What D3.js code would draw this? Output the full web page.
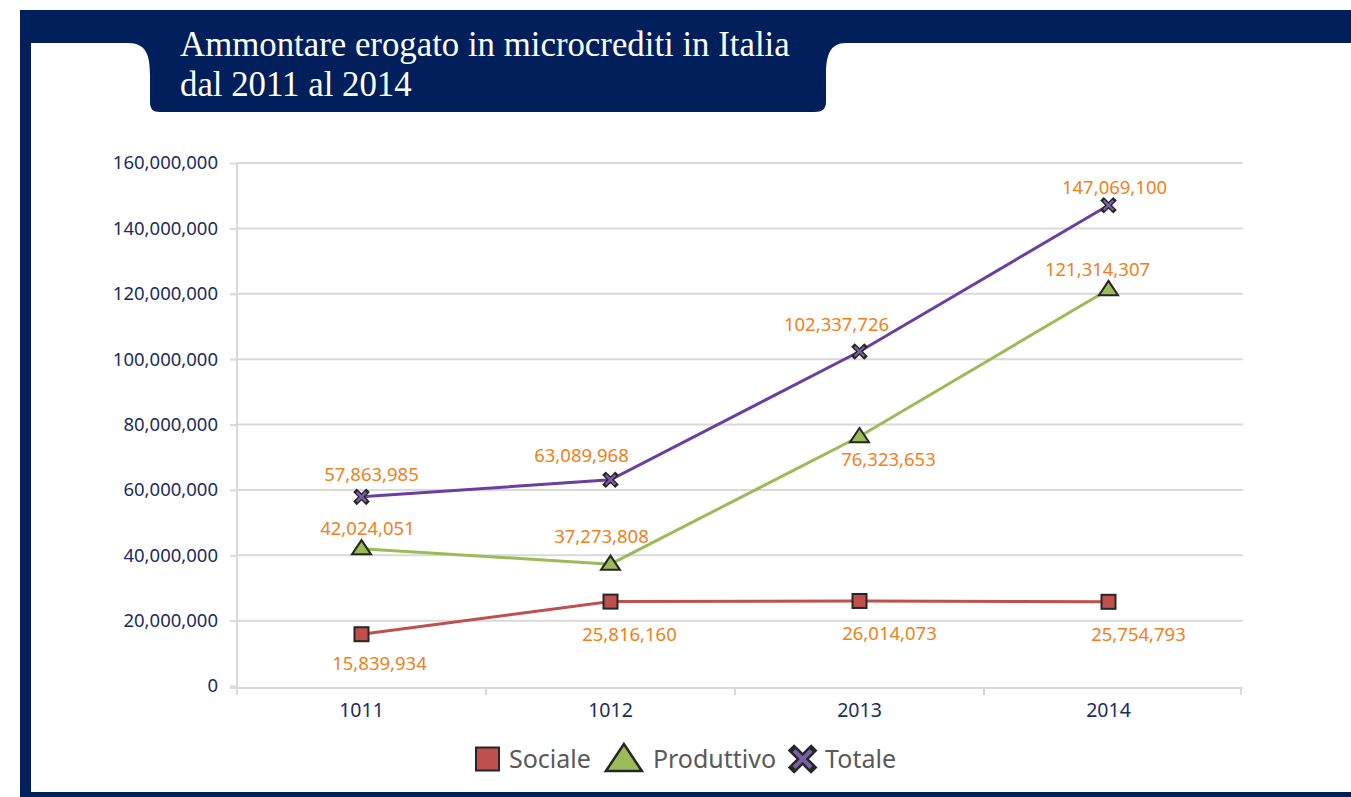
<html>
<head>
    <meta charset="utf-8">
    <script src="https://d3js.org/d3.v7.min.js"></script>
    <style>
        body { margin: 0; background: #fff; }
        svg { display: block; }
        .tick text { font-family: "Noto Sans", sans-serif; font-size: 18.5px; fill: #1c2b5e; }
        .xax .tick text { font-size: 19.5px; }
        .lbl { font-family: "Noto Sans", sans-serif; font-size: 18.5px; fill: #f0801a; }
        .leg { font-family: "Noto Sans", sans-serif; font-size: 25px; fill: #595959; }
    </style>
</head>
<body>
<script>
    // chart data
    var titleLines = ["Ammontare erogato in microcrediti in Italia", "dal 2011 al 2014"];
    var years = ["1011", "1012", "2013", "2014"];
    var sociale = [15839934, 25816160, 26014073, 25754793];
    var produttivo = [42024051, 37273808, 76323653, 121314307];
    var totale = [57863985, 63089968, 102337726, 147069100];
    var yTicks = [0, 20000000, 40000000, 60000000, 80000000, 100000000, 120000000, 140000000, 160000000];
    var seriesNames = ["Sociale", "Produttivo", "Totale"];

    // where each value label sits relative to its marker (dx, dy)
    var labelOffsets = {
        Sociale: [[18, 28], [19, 32], [30, 32], [30, 32]],
        Produttivo: [[6, -21], [-9, -29], [29, 22], [-11, -21]],
        Totale: [[10, -23], [-29, -25], [-23, -28], [6, -19]]
    };

    var series = [
        { name: "Sociale", values: sociale, color: "#c0504d", fill: "#c0504d", shape: "square" },
        { name: "Produttivo", values: produttivo, color: "#9bbb59", fill: "#9bbb59", shape: "triangle" },
        { name: "Totale", values: totale, color: "#6b3fa0", fill: "#7a5fa6", shape: "x" }
    ];

    var width = 1351, height = 797;
    var navy = "#001f5b", grid = "#d9d9d9", dark = "#262626";

    var svg = d3.select("body").append("svg")
        .attr("width", width)
        .attr("height", height);

    // frame: navy band with a title tab cut into the white panel
    svg.append("rect")
        .attr("x", 20).attr("y", 10)
        .attr("width", width - 20).attr("height", height - 10)
        .attr("fill", navy);

    svg.append("path")
        .attr("fill", "#fff")
        .attr("d", "M31,792 L31,43 L128,43 C146,43 150,55 150,75 L150,102 C150,109 153,112 160,112"
            + " L815,112 C822,112 826,109 826,102 L826,75 C826,55 830,43 846,43 L1351,43 L1351,792 Z");

    var title = svg.append("g").attr("fill", "#fff")
        .style("font-family", "'Liberation Serif', 'DejaVu Serif', serif");
    var t1 = title.append("text").attr("x", 180).attr("y", 56).attr("font-size", 30).text(titleLines[0]);
    var fs = 30 * 610 / t1.node().getComputedTextLength();
    t1.attr("font-size", fs);
    title.append("text").attr("x", 180).attr("y", 96).attr("font-size", fs).text(titleLines[1]);

    // scales
    var x = d3.scaleBand().domain(years).range([237, 1233]);
    var y = d3.scaleLinear().domain([0, 160000000]).range([686, 163]);
    var cx = function (i) { return x(years[i]) + x.bandwidth() / 2; };

    // gridlines
    svg.append("g").selectAll("line")
        .data(yTicks.slice(1))
        .enter().append("line")
        .attr("x1", 237).attr("x2", 1243)
        .attr("y1", function (d) { return y(d); })
        .attr("y2", function (d) { return y(d); })
        .attr("stroke", grid).attr("stroke-width", 2);

    // y axis
    var yAxis = svg.append("g")
        .attr("transform", "translate(237,0)")
        .call(d3.axisLeft(y).tickValues(yTicks).tickFormat(d3.format(",")).tickSize(7).tickPadding(12));
    yAxis.select(".domain").remove();
    yAxis.selectAll(".tick line").attr("stroke", grid).attr("stroke-width", 2);

    svg.append("line")
        .attr("x1", 237).attr("x2", 237).attr("y1", 163).attr("y2", 695)
        .attr("stroke", grid).attr("stroke-width", 2);

    // x axis
    var base = y(0) + 2;
    svg.append("line")
        .attr("x1", 230).attr("x2", 1243).attr("y1", base).attr("y2", base)
        .attr("stroke", grid).attr("stroke-width", 2);
    var bounds = years.map(function (d) { return x(d); }).concat([1241]);
    svg.append("g").selectAll("line")
        .data(bounds)
        .enter().append("line")
        .attr("x1", function (d) { return d; }).attr("x2", function (d) { return d; })
        .attr("y1", base).attr("y2", base + 7)
        .attr("stroke", grid).attr("stroke-width", 2);

    var xAxis = svg.append("g")
        .attr("class", "xax")
        .attr("transform", "translate(0," + base + ")")
        .call(d3.axisBottom(x).tickSize(0).tickPadding(15));
    xAxis.select(".domain").remove();

    // markers
    function drawMarker(g, shape, fill, s) {
        if (shape === "square") {
            g.append("rect").attr("x", -s / 2).attr("y", -s / 2).attr("width", s).attr("height", s)
                .attr("fill", fill).attr("stroke", dark).attr("stroke-width", 2);
        } else if (shape === "triangle") {
            var h = s * 0.75;
            g.append("path").attr("d", "M0," + (-h * 0.6) + " L" + (s / 2) + "," + (h * 0.4) + " L" + (-s / 2) + "," + (h * 0.4) + " Z")
                .attr("fill", fill).attr("stroke", dark).attr("stroke-width", 2).attr("stroke-linejoin", "miter");
        } else {
            var a = s / 2 - s * 0.16;
            var d = "M" + (-a) + "," + (-a) + " L" + a + "," + a + " M" + a + "," + (-a) + " L" + (-a) + "," + a;
            g.append("path").attr("d", d).attr("stroke", dark).attr("stroke-width", s * 0.36).attr("stroke-linecap", "square");
            g.append("path").attr("d", d).attr("stroke", fill).attr("stroke-width", s * 0.16).attr("stroke-linecap", "butt");
        }
    }

    var line = d3.line()
        .x(function (d, i) { return cx(i); })
        .y(function (d) { return y(d); });

    series.forEach(function (s) {
        svg.append("path")
            .datum(s.values)
            .attr("d", line)
            .attr("fill", "none")
            .attr("stroke", s.color)
            .attr("stroke-width", 3);
    });

    var markerSize = { square: 14, triangle: 19, x: 14 };
    series.forEach(function (s) {
        s.values.forEach(function (v, i) {
            var g = svg.append("g").attr("transform", "translate(" + cx(i) + "," + y(v) + ")");
            drawMarker(g, s.shape, s.fill, markerSize[s.shape]);
        });
    });

    // value labels
    series.forEach(function (s) {
        s.values.forEach(function (v, i) {
            var off = labelOffsets[s.name][i];
            svg.append("text")
                .attr("class", "lbl")
                .attr("x", cx(i) + off[0])
                .attr("y", y(v) + off[1])
                .attr("text-anchor", "middle")
                .attr("dominant-baseline", "central")
                .text(d3.format(",")(v));
        });
    });

    // legend
    var legend = svg.append("g");
    var legSizes = { square: 23, triangle: 38, x: 25 };
    var cursor = 0;
    series.forEach(function (s, i) {
        var item = legend.append("g").attr("transform", "translate(" + cursor + ",0)");
        var w = legSizes[s.shape];
        var mg = item.append("g").attr("transform", "translate(" + (w / 2) + ",0)");
        if (s.shape === "triangle") {
            mg.append("path").attr("d", "M0,-15 L18,12 L-18,12 Z")
                .attr("fill", s.fill).attr("stroke", dark).attr("stroke-width", 2.5);
        } else {
            drawMarker(mg, s.shape, s.fill, w);
        }
        var txt = item.append("text").attr("class", "leg")
            .attr("x", w + 10).attr("y", 9).text(seriesNames[i]);
        cursor += w + 10 + txt.node().getComputedTextLength() + 14;
    });
    var legW = cursor - 14;
    legend.attr("transform", "translate(" + (686 - legW / 2) + ",759)");
</script>
</body>
</html>
